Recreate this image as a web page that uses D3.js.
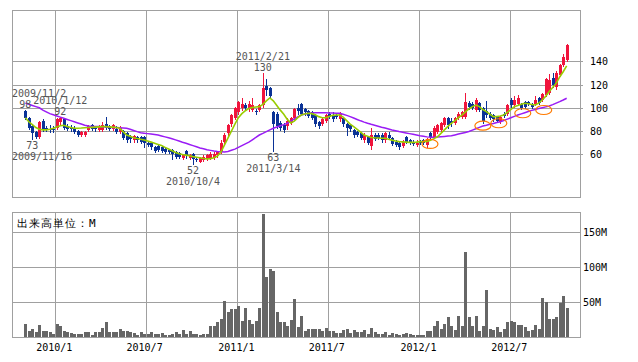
<!DOCTYPE html>
<html>
<head>
<meta charset="utf-8">
<script src="https://cdn.jsdelivr.net/npm/d3@7"></script>
<style>
body { margin: 0; background: #fff; }
svg { display: block; }
text { font-family: "DejaVu Sans Mono", monospace; }
</style>
</head>
<body>
<div id="chart"></div>
<script>
// weekly candles, first week 2009/11/2
const firstWeek = "2009-11-02";

const opens = [97,91,84,79,75,89,83,82,82,83, 88,90,84,83,83,80,77,77,81,85, 83,81,81,86,84,82,82,79,80,78,
  76,72,75,75,75,70,70,66,67,66, 65,64,64,62,61,57,63,57,60,56, 53,55,56,57,57,59,62,71,78,86,
  91,96,100,102,99,98,97,98,102,119, 117,96,95,87,85,84,87,91,100,103, 99,97,96,94,88,86,89,95,94,94,
  90,91,86,85,81,79,78,72,75,67, 77,77,77,72,77,74,71,70,67,75, 72,71,68,71,72,68,78,75,79,81,
  85,91,89,87,91,92,92,104,103,98, 104,100,97,95,94,92,88,95,95,107, 102,103,103,105,105,103,103,108,107,111,
  113,126,118,128,137,141];
const highs = [98,92,85,80,89,90,84,85,84,91, 92,90,86,85,84,81,80,80,85,86, 84,85,88,92,85,86,84,84,81,79,
  77,77,76,76,76,71,71,67,68,67, 66,65,65,63,62,60,64,60,61,58, 58,59,60,62,62,63,72,78,86,95,
  101,106,108,104,106,108,99,103,130,125, 118,97,96,89,87,91,92,100,103,104, 100,98,97,95,89,91,95,96,96,95,
  96,92,87,86,82,80,79,78,76,83, 78,78,78,79,79,75,72,71,72,76, 73,72,72,72,73,74,79,84,86,88,
  92,92,91,92,96,97,113,106,105,108, 105,101,106,96,95,93,93,96,103,108, 110,111,104,106,106,104,110,109,113,126,
  129,130,132,138,146,155];
const lows = [90,82,73,74,74,80,80,79,79,82, 86,82,81,80,78,76,76,76,80,81, 80,80,80,82,81,81,78,78,73,71,
  71,71,71,70,66,67,65,62,63,62, 61,61,56,57,57,56,57,56,52,54, 53,54,55,56,56,58,61,70,76,84,
  90,95,98,98,97,97,95,97,101,111, 108,63,83,81,79,82,86,90,95,94, 94,92,90,84,83,85,88,91,89,91,
  89,84,77,80,75,76,73,71,69,65, 72,73,71,71,73,68,67,65,66,70, 69,68,67,69,69,66,74,74,78,80,
  84,83,84,86,90,91,91,99,99,97, 97,87,92,90,89,88,87,92,94,101, 101,102,99,100,102,100,102,103,106,110,
  112,118,116,127,136,140];
const closes = [91,83,78,75,88,82,81,81,81,90, 91,83,82,82,79,77,79,79,84,82, 82,84,85,83,82,85,79,83,74,72,
  73,76,72,71,70,68,66,63,64,63, 62,62,60,58,58,59,59,59,56,55, 57,58,59,60,60,62,70,77,85,94,
  100,105,103,100,103,102,96,102,117,115, 110,86,84,83,81,89,91,99,97,95, 96,93,91,86,84,90,94,92,90,92,
  95,86,83,82,77,77,74,77,70,77, 73,74,72,78,74,69,68,66,71,71, 70,69,70,70,70,73,75,83,85,87,
  91,85,87,91,95,96,105,101,100,107, 98,89,94,91,90,89,92,93,102,102, 107,108,100,101,103,101,107,104,112,125,
  124,120,130,137,144,154];

// volume, millions
const volumes = [19,8,12,6.6,17.6,9,9,7.6,4.7,19, 16,9,7.6,6,4.7,4.7,4.7,7.6,7.6,3.3, 7.6,7.6,13.3,21.9,6.6,6.6,7.6,12,9,9,
  7.6,6,3.3,6.6,4.7,4.7,7.6,4.7,4.7,6, 3.3,3.3,4,7.6,4.7,10.5,5,8,4,4.7, 3.5,4.7,4.7,15.2,16.2,21.9,26.2,50.9,35.2,40.4,
  40.4,44.7,23.3,41.4,24.7,19,23.3,41.4,176,86, 97.6,93.8,35.7,20.9,21.9,15.2,24.7,54.7,13.8,30.5, 8,11.9,11.9,11.9,11.9,8.1,12.8,9,9,5.7,
  5.7,10.4,11.9,5.7,10.4,7.1,6.6,10.4,4.2,12.8, 7.6,4.7,4.7,7.1,2.8,5.7,4.2,2.8,4.7,5.7, 4.2,2.8,2.8,2.8,2.8,9,9,15.2,23.3,11.9,
  19,28,16.2,10.4,30.4,16.2,120.9,29,16.2,30.4, 9,16.2,67.6,11.9,10.4,13.8,7.6,11.9,21.9,23.3, 21.9,17.6,17.6,14.7,9,10.4,17.6,11.9,56.2,50.5,
  26.2,26.2,29,49,59,41.9];

// moving averages
const maShort = [91.5,88,85.5,83,81.5,81,81,81.5,82.4,83.5, 84.5,85,84,83,82.4,82.4,82.6,82.9,83,83.2, 83.4,83.6,83.8,83.8,83.6,83.4,83,82.4,79.5,76.6,
  75.5,74.3,73.6,73,72.3,71.4,70.5,69.5,68.5,67.5, 66,64.5,63,61.5,60.5,59.8,59.3,58.7,58,57.5, 57,56.4,56,56.3,57,58.5,62,68,74,80,
  86,91.5,95,97.5,99.5,100.3,100.7,101,103,106, 108.5,106,102,98,94.5,90,87,88.5,91.5,93.8, 94.6,95.3,95,94,92.4,91.5,91.5,92.5,93.5,93.8,
  93.8,92,89,86,83.8,81.5,79,76.6,75.5,74.5, 74.2,74,73.8,73.8,73,72.2,71.5,70.9,70.7,70.5, 70.3,70.3,70.5,70.9,70.9,71,72,73.5,75.1,78,
  81,84,86.7,89,91.5,93.8,96.5,99,101,102.4, 101,98.5,96.7,94.5,92.4,92.4,93,93.8,96,98.5, 101,102,103,103.9,103.5,102.8,102.4,104,106.7,110,
  114,117.5,121,126.5,131,136];
const maLong = [104,103,102,101,100,98,96.5,95,94,93, 92,91,90,89,88,87,86,85,84.3,84, 84,84,83.8,83.5,83.2,83,83,82.8,82.6,82.4,
  81.5,80.5,79.5,78.6,78.2,77.8,77.4,77,76.6,75.8, 75,74.2,73.4,72.4,71.4,70.4,69.5,68.5,67.5,66.5, 65.5,64.8,64,63.4,62.8,62.4,62.2,62,62.5,63.5,
  64.5,66,67.5,69,70.5,72.5,74.5,76.6,78,79.5, 81,82.4,83.5,84.5,85.5,86.7,88.5,90.5,92.2,93.8, 94.6,95.3,95.6,95.8,95.8,95.8,95.7,95.6,95.5,95.4,
  95.3,94.5,93.5,92.4,91.2,90,88.8,87.7,86.7,85.8, 85,84.2,83.3,82.6,81.8,81,80.3,79.6,79,78.4, 77.8,77.2,76.6,76,75.5,75,74.6,74.6,74.8,75.1,
  75.4,75.7,76,76.7,77.4,78.1,78.8,79.6,80.8,82, 83.2,84.3,85,85.8,86.5,87.3,88,89.1,90.3,91.4, 92.6,93.8,94.8,95.8,96.8,97.8,98.6,99.4,100.1,100.8,
  101.5,102.7,104,105.3,106.7,108.2];

const monthTicks = ["2010-01-01","2010-07-01","2011-01-01","2011-07-01","2012-01-01","2012-07-01"];
const priceTicks = [60, 80, 100, 120, 140];
const volTicks = [50, 100, 150];

// high / low notes
const noteDates = ["2009-11-02","2010-01-12","2009-11-16","2010-10-04","2011-02-21","2011-03-14"];
const noteValues = [98, 92, 73, 52, 130, 63];
const noteKinds = ["high","high","low","low","high","low"];

// orange circles
const markDates = ["2012-01-22","2012-05-07","2012-06-08","2012-07-26","2012-09-06"];
const markValues = [68.9, 84.6, 86.7, 95.3, 98.1];

const width = 638, height = 362;
const left = 12, right = 580;
const pTop = 10, pBottom = 197, vTop = 212, vBottom = 337;

const parse = d3.timeParse("%Y-%m-%d");
const start = parse(firstWeek);
const weeks = closes.map((c, i) => d3.timeDay.offset(start, i * 7));

const x = d3.scaleTime()
  .domain([parse("2010-01-01"), parse("2012-07-01")])
  .range([55.3, 510.3]);
const y = d3.scaleLinear().domain([23.3, 184.1]).range([pBottom, pTop]);
const yv = d3.scaleLinear().domain([0, 178.6]).range([vBottom, vTop]);

const svg = d3.select("#chart").append("svg")
  .attr("width", width)
  .attr("height", height);

const grid = "#a0a0a0";
const px = v => Math.round(v) + 0.5;

// panels
[[pTop, pBottom], [vTop, vBottom]].forEach(([t, b]) => {
  svg.append("g").selectAll("line")
    .data(monthTicks)
    .join("line")
    .attr("x1", d => px(x(parse(d)))).attr("x2", d => px(x(parse(d))))
    .attr("y1", t).attr("y2", b)
    .attr("stroke", grid);
});

svg.append("g").selectAll("line")
  .data(priceTicks)
  .join("line")
  .attr("x1", left).attr("x2", right + 3)
  .attr("y1", d => px(y(d))).attr("y2", d => px(y(d)))
  .attr("stroke", grid);

svg.append("g").selectAll("line")
  .data(volTicks)
  .join("line")
  .attr("x1", left).attr("x2", right)
  .attr("y1", d => px(yv(d))).attr("y2", d => px(yv(d)))
  .attr("stroke", grid);

svg.append("rect").attr("x", left + 0.5).attr("y", pTop + 0.5)
  .attr("width", right - left).attr("height", pBottom - pTop)
  .attr("fill", "none").attr("stroke", grid);
svg.append("rect").attr("x", left + 0.5).attr("y", vTop + 0.5)
  .attr("width", right - left).attr("height", vBottom - vTop)
  .attr("fill", "none").attr("stroke", grid);

// volume bars
svg.append("g").selectAll("rect")
  .data(volumes)
  .join("rect")
  .attr("x", (d, i) => Math.round(x(weeks[i])) - 1)
  .attr("width", 3)
  .attr("y", d => Math.round(yv(d)))
  .attr("height", d => vBottom - Math.round(yv(d)))
  .attr("fill", "#666")
  .attr("shape-rendering", "crispEdges");

// candles
const up = "#f0143c", down = "#0a3296";
const candles = svg.append("g").attr("shape-rendering", "crispEdges");
closes.forEach((c, i) => {
  const o = opens[i];
  const col = c >= o ? up : down;
  const cx = Math.round(x(weeks[i]));
  candles.append("line")
    .attr("x1", cx + 0.5).attr("x2", cx + 0.5)
    .attr("y1", Math.round(y(highs[i]))).attr("y2", Math.round(y(lows[i])) + 1)
    .attr("stroke", col);
  const top = Math.round(y(Math.max(o, c)));
  const bot = Math.round(y(Math.min(o, c)));
  candles.append("rect")
    .attr("x", cx - 1).attr("width", 3)
    .attr("y", top).attr("height", Math.max(1, bot - top))
    .attr("fill", col);
});

// moving averages
const line = d3.line()
  .x((d, i) => x(weeks[i]))
  .y(d => y(d));
svg.append("path").datum(maLong)
  .attr("d", line)
  .attr("fill", "none")
  .attr("stroke", "#9a1cf5")
  .attr("stroke-width", 1.5);
svg.append("path").datum(maShort)
  .attr("d", line)
  .attr("fill", "none")
  .attr("stroke", "#99cc00")
  .attr("stroke-width", 1.6);

// orange marks
svg.append("g").selectAll("ellipse")
  .data(markDates)
  .join("ellipse")
  .attr("cx", d => x(parse(d)))
  .attr("cy", (d, i) => y(markValues[i]))
  .attr("rx", 8).attr("ry", 4.5)
  .attr("fill", "none")
  .attr("stroke", "#ff7a00")
  .attr("stroke-width", 1.2);

// high / low notes
const notes = svg.append("g")
  .attr("fill", "#555")
  .attr("font-size", 10);
const fmtNote = d3.timeFormat("%Y/%-m/%-d");
noteDates.forEach((d, i) => {
  const date = parse(d);
  const cx = x(d3.timeMonday.floor(date));
  const vy = y(noteValues[i]);
  const isHigh = noteKinds[i] === "high";
  const valY = isHigh ? vy - 2 : vy + 10;
  const dateY = isHigh ? vy - 13 : vy + 21;
  notes.append("text")
    .attr("x", cx).attr("y", valY)
    .attr("text-anchor", "middle")
    .text(noteValues[i]);
  const t = notes.append("text")
    .attr("y", dateY)
    .text(fmtNote(date));
  const w = t.node().getComputedTextLength();
  t.attr("x", Math.max(left, cx - w / 2));
});

// axis labels
svg.append("g").selectAll("text")
  .data(priceTicks)
  .join("text")
  .attr("x", 590)
  .attr("y", d => y(d) + 4)
  .attr("font-size", 10)
  .attr("fill", "#000")
  .text(d => d);

svg.append("g").selectAll("text")
  .data(volTicks)
  .join("text")
  .attr("x", 583)
  .attr("y", d => yv(d) + 4)
  .attr("font-size", 10)
  .attr("fill", "#000")
  .text(d => d + "M");

const fmtMonth = d3.timeFormat("%Y/%-m");
svg.append("g").selectAll("text")
  .data(monthTicks)
  .join("text")
  .attr("x", d => x(parse(d)) - 1)
  .attr("y", 351)
  .attr("text-anchor", "middle")
  .attr("font-size", 10)
  .attr("fill", "#000")
  .text(d => fmtMonth(parse(d)));

svg.append("text")
  .attr("x", 17).attr("y", 227)
  .attr("font-family", "'Noto Sans CJK JP', sans-serif")
  .attr("font-size", 11)
  .attr("letter-spacing", 1)
  .attr("fill", "#000")
  .text("出来高単位：M");
</script>
</body>
</html>
